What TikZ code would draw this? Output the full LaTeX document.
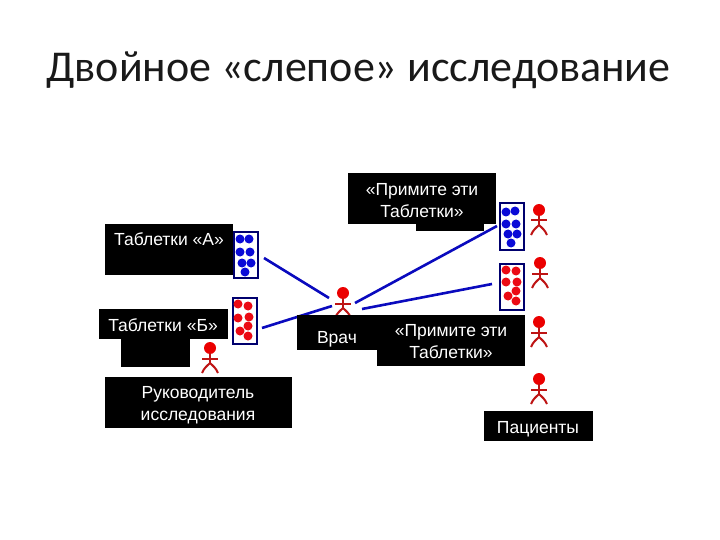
\documentclass[tikz,border=0pt]{standalone}
\usepackage{fontspec}
\setmainfont{Liberation Sans}
\newfontfamily\titlefont{Carlito}
\definecolor{navy}{RGB}{0,0,110}
\definecolor{linkblue}{RGB}{10,10,190}
\definecolor{pillblue}{RGB}{10,10,215}
\definecolor{pillred}{RGB}{235,10,20}
\definecolor{manred}{RGB}{235,0,0}
\definecolor{mandark}{RGB}{190,20,20}
\tikzset{
  x=1pt,y=-1pt,
  blackbox/.style={fill=black,draw=none},
  lbl/.style={text=white,font=\fontsize{17.5}{22}\selectfont,align=center,inner sep=0pt},
  pack/.style={draw=navy,line width=2pt,fill=white,minimum width=24pt,minimum height=46pt,inner sep=0pt},
  link/.style={draw=linkblue,line width=2.6pt},
  pilldot/.style={circle,fill=#1,draw=none,minimum size=9pt,inner sep=0pt},
  pics/man/.style={code={
    \fill[manred] (0,0) circle[radius=6];
    \draw[mandark,line width=2pt] (0,5) -- (0,15) (-8,10.5) -- (8,10.5);
    \draw[mandark,line width=2pt] (-8,25) .. controls (-6,20) and (-3,18) .. (0,15) .. controls (3,18) and (6,20) .. (8,25);
  }}
}
\begin{document}
\begin{tikzpicture}
\useasboundingbox (0,0) rectangle (720,540);
\fill[white] (0,0) rectangle (720,540);
\node[font=\titlefont\fontsize{44}{50}\selectfont,text=black!90,inner sep=0pt] (title) at (358.5,70) {Двойное «слепое» исследование};
% connectors
\coordinate (a1) at (264,258); \coordinate (a2) at (329,298);
\coordinate (b1) at (262,328); \coordinate (b2) at (332,306);
\coordinate (c1) at (355,303); \coordinate (c2) at (497,226);
\coordinate (d1) at (362,309); \coordinate (d2) at (492,284);
\draw[link] (a1) -- (a2);
\draw[link] (b1) -- (b2);
\draw[link] (c1) -- (c2);
\draw[link] (d1) -- (d2);
% people
\pic at (539,210) {man};
\pic at (540,263) {man};
\pic at (539,322) {man};
\pic at (539,379) {man};
\pic at (210,348) {man};
\pic at (343,293) {man};
% black boxes
\fill[blackbox] (416,210) rectangle (484,231);
\fill[blackbox] (121,330) rectangle (190,367);
\fill[blackbox] (348,173) rectangle (496,224);
\fill[blackbox] (105,224) rectangle (233,275);
\fill[blackbox] (99,309) rectangle (228,339);
\fill[blackbox] (105,377) rectangle (292,428);
\fill[blackbox] (297,315) rectangle (380,350);
\fill[blackbox] (377,315) rectangle (525,366);
\fill[blackbox] (484,411) rectangle (593,441);
% labels
\node[lbl] (take1) at (422,200.5) {«Примите эти\\Таблетки»};
\node[lbl] (tabA) at (169,239.5) {Таблетки «А»};
\node[lbl] (tabB) at (163,325) {Таблетки «Б»};
\node[lbl] (lead) at (198,405) {Руководитель\\исследования};
\node[lbl] (doc) at (337,339) {Врач};
\node[lbl] (take2) at (451,342) {«Примите эти\\Таблетки»};
\node[lbl] (pats) at (538,429) {Пациенты};
% pill packs
\node[pack] (packA) at (246,255) {};
\node[pack] (packB) at (244.5,321) {};
\node[pack] (packC) at (511.5,226.5) {};
\node[pack] (packD) at (511.5,287) {};
\foreach \px/\py in {240/239,249/239,240/252,250/252,242/263,251/263,245/272,506/212,515/211,506/224,516/224,508/234,517/234,511/243}
  \node[pilldot=pillblue] at (\px,\py) {};
\foreach \px/\py in {238/304,248/306,238/318,249/317,248/326,240/331,248/336,506/270,516/271,506/282,517/282,516/291,508/296,516/301}
  \node[pilldot=pillred] at (\px,\py) {};
\end{tikzpicture}
\end{document}
